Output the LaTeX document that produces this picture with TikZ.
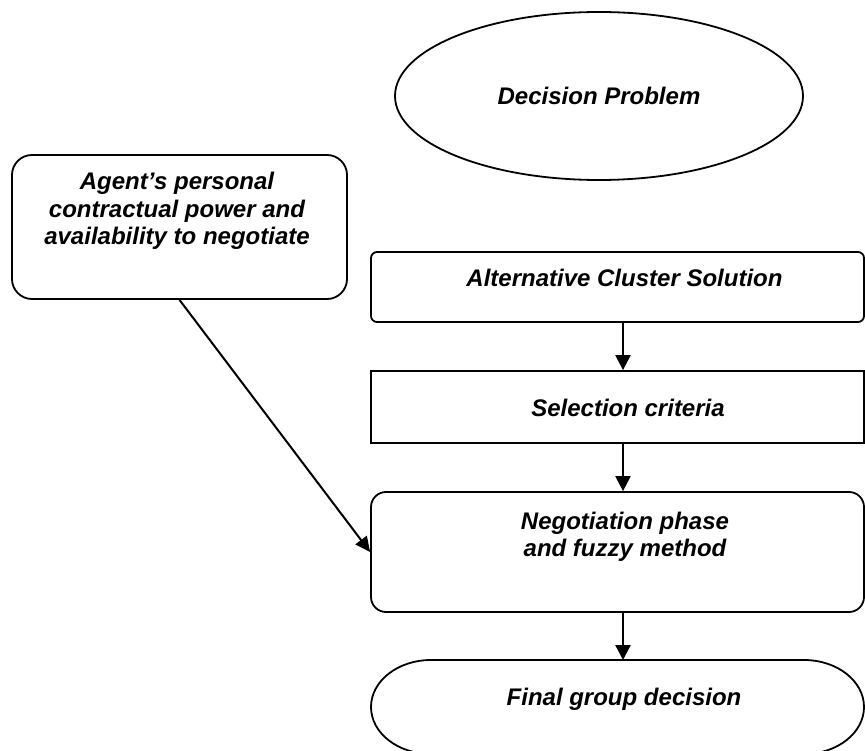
\documentclass[tikz,border=0pt]{standalone}
\usepackage{fontspec}
\setmainfont{Liberation Sans}
\usetikzlibrary{arrows.meta,shapes.geometric}
\begin{document}
\begin{tikzpicture}[x=1pt,y=-1pt,
  shapebox/.style={draw,line width=1.8pt,inner sep=0pt},
  lbl/.style={font=\fontsize{24}{27.5}\selectfont\bfseries\itshape,inner sep=0pt,align=center},
  arr/.style={line width=2.3pt,-{Triangle[length=15pt,width=15pt]}}]
\useasboundingbox (0,0) rectangle (865,751);
% shapes
\node[shapebox,ellipse,minimum width=408pt,minimum height=168pt,lbl] (dec) at (599,96) {Decision Problem};
\node[shapebox,rounded corners=20pt,minimum width=335pt,minimum height=144pt] (agent) at (179.5,227) {};
\node[shapebox,rounded corners=6pt,minimum width=493pt,minimum height=70pt] (alt) at (617.5,287) {};
\node[shapebox,minimum width=493pt,minimum height=72pt] (sel) at (617.5,407) {};
\node[shapebox,rounded corners=15pt,minimum width=493pt,minimum height=120pt] (neg) at (617.5,552) {};
\draw[line width=1.8pt] (431,660) -- (804,660)
  arc[start angle=90,end angle=-90,x radius=60pt,y radius=47pt] -- (431,754)
  arc[start angle=270,end angle=90,x radius=60pt,y radius=47pt] -- cycle;
\coordinate (fin) at (623,660);
% texts
\node[lbl] (agentT) at (177,211) {Agent’s personal\\contractual power and\\availability to negotiate};
\node[lbl,anchor=base] (altT) at (624.5,287) {Alternative Cluster Solution};
\node[lbl,anchor=base] (selT) at (628,416) {Selection criteria};
\node[lbl] (negT) at (625,537) {Negotiation phase\\and fuzzy method};
\node[lbl,anchor=base] (finT) at (624,705) {Final group decision};
% connectors
\coordinate (col) at (623,0);
\draw[arr] (alt.south -| col) -- (sel.north -| col);
\draw[arr] (sel.south -| col) -- (neg.north -| col);
\draw[arr] (neg.south -| col) -- (fin);
\draw[line width=2pt,-{Triangle[length=15pt,width=14pt]}] (agent.south) -- (neg.west);
\end{tikzpicture}
\end{document}
